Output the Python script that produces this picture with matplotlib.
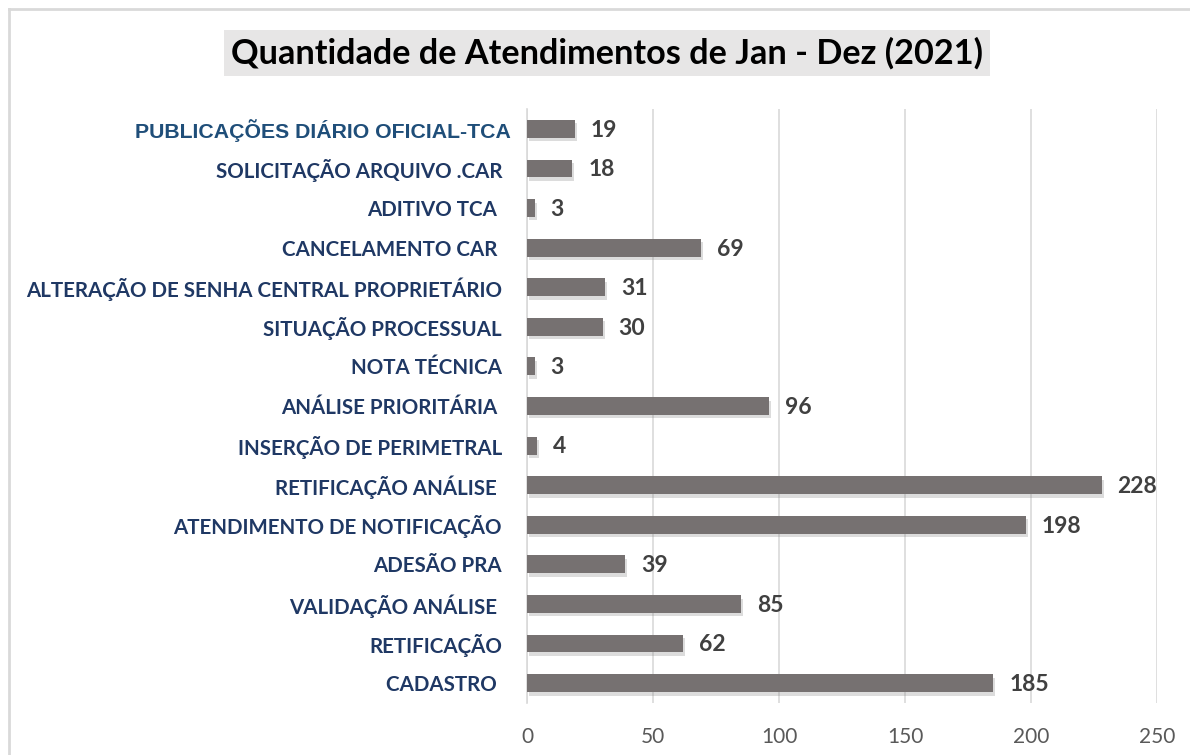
import matplotlib
matplotlib.use("Agg")
import matplotlib.pyplot as plt
import matplotlib.patheffects as pe
from matplotlib.lines import Line2D
from matplotlib.transforms import ScaledTranslation

categories = [
    "PUBLICAÇÕES DIÁRIO OFICIAL-TCA",
    "SOLICITAÇÃO ARQUIVO .CAR",
    "ADITIVO TCA ",
    "CANCELAMENTO CAR ",
    "ALTERAÇÃO DE SENHA CENTRAL PROPRIETÁRIO",
    "SITUAÇÃO PROCESSUAL",
    "NOTA TÉCNICA",
    "ANÁLISE PRIORITÁRIA ",
    "INSERÇÃO DE PERIMETRAL",
    "RETIFICAÇÃO ANÁLISE ",
    "ATENDIMENTO DE NOTIFICAÇÃO",
    "ADESÃO PRA",
    "VALIDAÇÃO ANÁLISE ",
    "RETIFICAÇÃO",
    "CADASTRO ",
]
values = [19, 18, 3, 69, 31, 30, 3, 96, 4, 228, 198, 39, 85, 62, 185]
xticks = [0, 50, 100, 150, 200, 250]
title = "Quantidade de Atendimentos de Jan - Dez (2021)"

FONT = ["Lato", "DejaVu Sans"]

fig = plt.figure(figsize=(11.9, 7.55), dpi=100)
fig.patch.set_facecolor("white")
ax = fig.add_axes([0.4429, 0.0689, 0.5294, 0.7867])

n = len(categories)
ypos = list(range(n))[::-1]
bars = ax.barh(ypos, values, height=0.45, color="#767171", zorder=3)
for b in bars:
    b.set_path_effects([pe.SimplePatchShadow(offset=(1.5, -2.5), shadow_rgbFace="#8c8c8c", alpha=0.3), pe.Normal()])

for y, v in zip(ypos, values):
    ax.annotate(str(v), xy=(v, y), xytext=(11.5, -1), textcoords="offset points",
                ha="left", va="center", fontsize=16.5, fontweight="bold",
                color="#404040", family=FONT)

ax.set_xlim(0, 250)
ax.set_ylim(-0.5, n - 0.5)
ax.set_xticks(xticks)
ax.set_xticklabels([str(t) for t in xticks], fontsize=15, color="#595959", family=FONT)
ax.set_yticks(ypos)
ax.set_yticklabels(categories, fontsize=14.8, fontweight="bold", family=FONT, color="#1F3864")
ax.tick_params(axis="y", length=0, pad=18)
ax.tick_params(axis="x", length=0, pad=17)

# first category label uses an Arial-like font, steel blue, sits a bit closer to the axis
first = ax.yaxis.get_major_ticks()[0].label1
first.set_color("#1F4E79")
first.set_family(["Liberation Sans", "DejaVu Sans"])
first.set_fontsize(15.3)
first.set_transform(first.get_transform() + ScaledTranslation(9 / 100, 0, fig.dpi_scale_trans))

ax.grid(axis="x", color="#d9d9d9", linewidth=1.2, zorder=0)
for s in ["top", "right", "bottom"]:
    ax.spines[s].set_visible(False)
ax.spines["left"].set_color("#d9d9d9")
ax.spines["left"].set_linewidth(1.2)

fig.text(0.51, 0.930, title, ha="center", va="center", fontsize=24.7, fontweight="bold",
         color="black", family=FONT,
         bbox=dict(boxstyle="square,pad=0.2", facecolor="#e7e6e6", edgecolor="none"))

# outer chart border (top and left)
fig.add_artist(Line2D([9 / 1190, 1.0], [1 - 9 / 755, 1 - 9 / 755], transform=fig.transFigure,
                      color="#d9d9d9", linewidth=2))
fig.add_artist(Line2D([9 / 1190, 9 / 1190], [0.0, 1 - 9 / 755], transform=fig.transFigure,
                      color="#d9d9d9", linewidth=2))

fig.savefig("out.png", dpi=100)
